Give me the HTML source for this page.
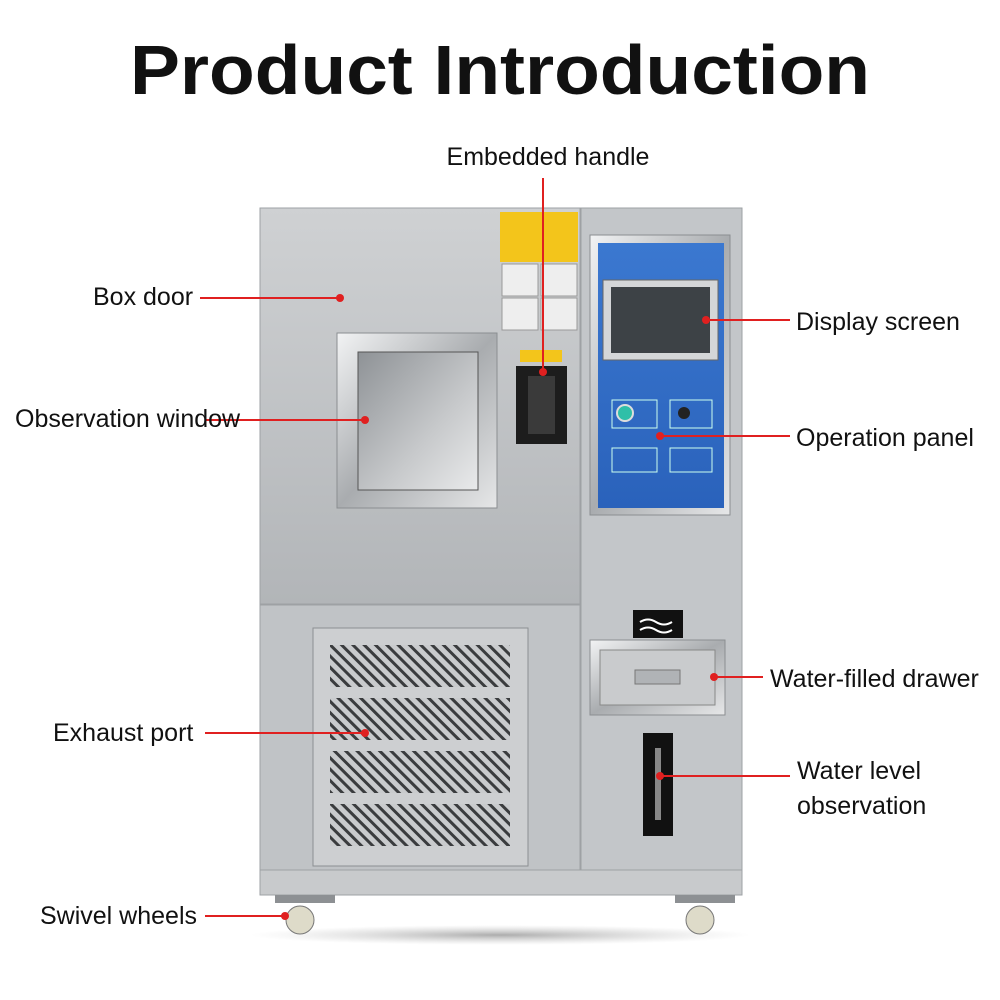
<!DOCTYPE html>
<html><head><meta charset="utf-8"><style>
html,body{margin:0;padding:0;background:#fff;}
svg{display:block}
text{font-family:"Liberation Sans",Arial,sans-serif;}
</style></head><body>
<svg width="1000" height="1000" viewBox="0 0 1000 1000" xmlns="http://www.w3.org/2000/svg">
<defs>
<linearGradient id="steel" x1="0" y1="0" x2="1" y2="0">
<stop offset="0" stop-color="#b9bcbf"/><stop offset="0.5" stop-color="#d8dadc"/><stop offset="1" stop-color="#b4b7ba"/></linearGradient>
<linearGradient id="steelv" x1="0" y1="0" x2="0" y2="1">
<stop offset="0" stop-color="#cfd1d3"/><stop offset="1" stop-color="#b2b5b8"/></linearGradient>
<linearGradient id="frame" x1="0" y1="0" x2="1" y2="1">
<stop offset="0" stop-color="#f2f3f4"/><stop offset="0.5" stop-color="#a9acaf"/><stop offset="1" stop-color="#e6e7e8"/></linearGradient>
<linearGradient id="glass" x1="0" y1="0" x2="1" y2="1">
<stop offset="0" stop-color="#8e9296"/><stop offset="0.6" stop-color="#c7c9cb"/><stop offset="1" stop-color="#e9eaeb"/></linearGradient>
<linearGradient id="blue" x1="0" y1="0" x2="0" y2="1">
<stop offset="0" stop-color="#3b78d0"/><stop offset="1" stop-color="#2a62bb"/></linearGradient>
<pattern id="grille" width="8" height="8" patternUnits="userSpaceOnUse" patternTransform="rotate(-45)">
<rect width="8" height="8" fill="#c9cbcd"/><rect width="3" height="8" fill="#3a3c3e"/></pattern>
<radialGradient id="shadow"><stop offset="0" stop-color="#888" stop-opacity="0.7"/><stop offset="1" stop-color="#bbb" stop-opacity="0"/></radialGradient>
</defs>

<text x="130" y="94" textLength="740" lengthAdjust="spacingAndGlyphs" font-size="70" font-weight="bold" fill="#111">Product Introduction</text>

<ellipse cx="500" cy="935" rx="250" ry="10" fill="url(#shadow)"/>

<rect x="260" y="208" width="482" height="662" fill="url(#steel)"/>
<rect x="260" y="208" width="320" height="396" fill="url(#steelv)" stroke="#9ea1a4"/>
<rect x="581" y="208" width="161" height="662" fill="#c3c6c9" stroke="#9ea1a4"/>
<rect x="260" y="605" width="320" height="265" fill="#c0c3c6" stroke="#9ea1a4"/>
<rect x="313" y="628" width="215" height="238" fill="#cdcfd1" stroke="#8c8f92"/>
<rect x="330" y="645" width="180" height="42" fill="url(#grille)"/>
<rect x="330" y="698" width="180" height="42" fill="url(#grille)"/>
<rect x="330" y="751" width="180" height="42" fill="url(#grille)"/>
<rect x="330" y="804" width="180" height="42" fill="url(#grille)"/>
<rect x="260" y="870" width="482" height="25" fill="#c8cacc" stroke="#9ea1a4"/>
<rect x="275" y="895" width="60" height="8" fill="#8d9093"/>
<rect x="675" y="895" width="60" height="8" fill="#8d9093"/>
<circle cx="300" cy="920" r="14" fill="#dedbc9" stroke="#777"/>
<circle cx="700" cy="920" r="14" fill="#dedbc9" stroke="#777"/>

<rect x="337" y="333" width="160" height="175" fill="url(#frame)" stroke="#8b8e91"/>
<rect x="358" y="352" width="120" height="138" fill="url(#glass)" stroke="#555"/>
<rect x="516" y="366" width="51" height="78" fill="#1d1d1d"/>
<rect x="528" y="376" width="27" height="58" fill="#3a3a3a"/>
<rect x="500" y="212" width="78" height="50" fill="#f3c51b"/>
<rect x="502" y="264" width="36" height="32" fill="#eee" stroke="#999"/>
<rect x="541" y="264" width="36" height="32" fill="#eee" stroke="#999"/>
<rect x="502" y="298" width="36" height="32" fill="#eee" stroke="#999"/>
<rect x="541" y="298" width="36" height="32" fill="#eee" stroke="#999"/>
<rect x="520" y="350" width="42" height="12" fill="#f3c51b"/>

<rect x="590" y="235" width="140" height="280" fill="url(#frame)" stroke="#8b8e91"/>
<rect x="598" y="243" width="126" height="265" fill="url(#blue)"/>
<rect x="603" y="280" width="115" height="80" fill="#d4d6d8" stroke="#666"/>
<rect x="611" y="287" width="99" height="66" fill="#3d4246"/>
<circle cx="625" cy="413" r="8" fill="#2fbfa8" stroke="#ddd" stroke-width="2"/>
<rect x="612" y="400" width="45" height="28" fill="none" stroke="#cfe" stroke-width="1"/>
<rect x="670" y="400" width="42" height="28" fill="none" stroke="#cfe" stroke-width="1"/>
<circle cx="684" cy="413" r="6" fill="#222"/>
<rect x="612" y="448" width="45" height="24" fill="none" stroke="#cfe"/>
<rect x="670" y="448" width="42" height="24" fill="none" stroke="#cfe"/>

<rect x="633" y="610" width="50" height="28" fill="#111"/>
<path d="M640 622 q8 -5 16 0 t16 0 M640 630 q8 -5 16 0 t16 0" stroke="#fff" fill="none" stroke-width="2"/>
<rect x="590" y="640" width="135" height="75" fill="url(#frame)" stroke="#8b8e91"/>
<rect x="600" y="650" width="115" height="55" fill="#c9cbcd" stroke="#888"/>
<rect x="635" y="670" width="45" height="14" fill="#b0b3b6" stroke="#777"/>
<rect x="643" y="733" width="30" height="103" fill="#111"/>
<rect x="655" y="748" width="6" height="72" fill="#888"/>

<g stroke="#e02020" stroke-width="2" fill="none">
<line x1="543" y1="178" x2="543" y2="372"/>
<line x1="200" y1="298" x2="340" y2="298"/>
<line x1="205" y1="420" x2="365" y2="420"/>
<line x1="706" y1="320" x2="790" y2="320"/>
<line x1="660" y1="436" x2="790" y2="436"/>
<line x1="714" y1="677" x2="763" y2="677"/>
<line x1="660" y1="776" x2="790" y2="776"/>
<line x1="205" y1="733" x2="365" y2="733"/>
<line x1="205" y1="916" x2="285" y2="916"/>
</g>
<g fill="#e02020">
<circle cx="543" cy="372" r="4"/>
<circle cx="340" cy="298" r="4"/>
<circle cx="365" cy="420" r="4"/>
<circle cx="706" cy="320" r="4"/>
<circle cx="660" cy="436" r="4"/>
<circle cx="714" cy="677" r="4"/>
<circle cx="660" cy="776" r="4"/>
<circle cx="365" cy="733" r="4"/>
<circle cx="285" cy="916" r="4"/>
</g>

<g font-size="25" fill="#111">
<text x="548" y="165" text-anchor="middle">Embedded handle</text>
<text x="93" y="305">Box door</text>
<text x="15" y="427">Observation window</text>
<text x="796" y="330">Display screen</text>
<text x="796" y="446">Operation panel</text>
<text x="770" y="687">Water-filled drawer</text>
<text x="797" y="779">Water level</text>
<text x="797" y="814">observation</text>
<text x="53" y="741">Exhaust port</text>
<text x="40" y="924">Swivel wheels</text>
</g>
</svg>
</body></html>
